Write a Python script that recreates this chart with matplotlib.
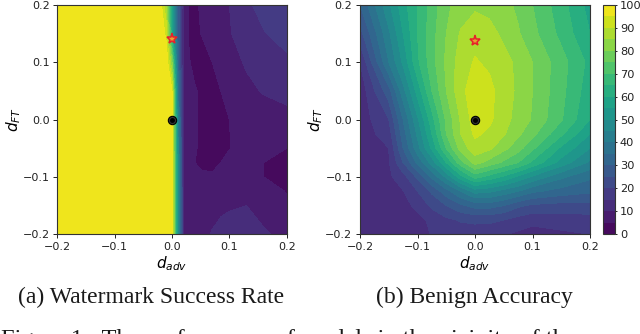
import numpy as np
import matplotlib
matplotlib.use("Agg")
import matplotlib.pyplot as plt

W, H = 640, 334
levels = np.arange(0, 101, 5)
ticks = [-0.2, -0.1, 0.0, 0.1, 0.2]
cbar_ticks = list(range(0, 101, 10))

# (a) Watermark Success Rate
a_x = [-0.2, -0.02, -0.01, 0.0, 0.01, 0.02, 0.03, 0.04, 0.05, 0.07, 0.085, 0.1, 0.13, 0.16, 0.2]
a_y = [-0.2, -0.15, -0.125, -0.1, -0.075, -0.05, 0.0, 0.05, 0.1, 0.15, 0.2]
a_z = [
    [100, 100, 100, 97, 50, 10, 7, 7.5, 8, 10.5, 11.5, 12, 13, 11, 8],
    [100, 100, 100, 97, 50, 10, 7, 7, 7, 7.5, 9, 9.5, 10, 7, 5.3],
    [100, 100, 100, 97, 50, 10, 7, 6.5, 6.5, 7, 7.5, 8, 8, 6, 4.9],
    [100, 100, 100, 97, 50, 9, 6.5, 6, 5.5, 5.5, 6, 6.5, 7, 5, 3.5],
    [100, 100, 100, 97, 50, 9, 6, 5, 4.5, 4, 5, 6, 6.5, 5, 3.5],
    [100, 100, 100, 97, 48, 9, 6, 5.3, 4.5, 3, 4, 4.9, 6, 6, 5],
    [100, 100, 100, 97, 45, 8, 6, 5.3, 4.5, 3, 3.5, 5, 6, 7, 8],
    [100, 100, 100, 95, 40, 8, 6, 5.3, 4.5, 3.5, 5, 6.5, 8.5, 10.5, 12],
    [100, 100, 100, 80, 35, 8, 5.2, 4, 4, 5, 6.5, 7.5, 10.8, 12, 14],
    [100, 100, 93, 60, 30, 9, 4.5, 4.5, 5, 7, 8, 9.7, 12, 14.7, 17],
    [100, 97, 85, 55, 30, 10, 4, 4.5, 5.3, 7, 8.5, 10, 14, 17, 20],
]

# (b) Benign Accuracy
b_x = [-0.2, -0.15, -0.125, -0.1, -0.075, -0.05, -0.025, 0.0, 0.025, 0.05, 0.075, 0.1, 0.15, 0.2]
b_y = [-0.2, -0.175, -0.15, -0.125, -0.1, -0.075, -0.05, -0.025, 0.0, 0.05, 0.1, 0.15, 0.2]
b_z = [
    [11, 11, 11, 12.5, 15.3, 16.5, 17, 17.5, 17, 15.5, 14, 13, 14, 15],
    [11, 11, 11.5, 13, 16.5, 19, 20.5, 21, 21, 20, 18, 16.5, 17.5, 18],
    [11, 11, 13, 16.5, 21, 25, 29, 32, 32, 30, 26, 24, 23, 23],
    [11, 12, 14.8, 20, 26, 33, 40, 47, 46, 43, 40, 36, 33, 31],
    [11, 14, 18, 26, 36, 46, 58, 67, 63, 59, 54, 49, 41, 36],
    [11.5, 14.5, 25, 36, 47, 60, 73, 82, 78, 74, 70, 64, 53, 44],
    [11.5, 15, 30, 43, 56, 70, 82, 88, 86, 81.5, 77, 71, 59, 50],
    [12, 17.5, 32.5, 46, 60, 75, 85, 91, 89, 85.5, 81, 76.5, 66, 55],
    [12, 20, 35, 49, 63, 76, 85.5, 92.5, 91, 87, 83, 79.5, 70.5, 60],
    [11.5, 28, 43, 57, 70, 80, 88.5, 93, 91.5, 87.5, 84, 80, 71.5, 62],
    [15, 40, 51, 64, 73, 81, 87.5, 90.5, 89, 86.5, 84, 80, 72, 63.5],
    [23, 44, 55, 65, 73, 80, 85.5, 88, 86.5, 84, 80.5, 76.5, 68.5, 60],
    [30, 49, 58, 65, 72, 79, 82, 84, 83.5, 81.5, 79, 75, 67, 58],
]

# marker positions
a_star = (0.0, 0.14)
b_star = (0.0, 0.137)
origin = (0.0, 0.0)

panel_a_caption = "(a) Watermark Success Rate"
panel_b_caption = "(b) Benign Accuracy"
figure_caption = "Figure 1:  The performance of models in the vicinity of the"

fig = plt.figure(figsize=(W / 100, H / 100), dpi=100)
def box(l, t, r, b):
    return [l / W, 1 - b / H, (r - l) / W, (b - t) / H]

ax1 = fig.add_axes(box(57.3, 4.7, 286.7, 234.3))
ax2 = fig.add_axes(box(360, 4.7, 590, 234.3))
cax = fig.add_axes(box(603, 4.7, 615, 234.3))

for ax, x, y, z, star in ((ax1, a_x, a_y, a_z, a_star), (ax2, b_x, b_y, b_z, b_star)):
    cs = ax.contourf(x, y, np.array(z), levels=levels, cmap="viridis", vmin=0, vmax=100)
    ax.plot(*origin, "o", ms=6, mfc="#333333", mec="black", mew=0.8)
    ax.plot(*origin, "o", ms=2.5, mfc="black", mec="black")
    ax.plot(*star, "*", ms=8, mfc="#e8a030", mec="#e8202a", mew=1.1)
    ax.set_xlim(-0.2, 0.2)
    ax.set_ylim(-0.2, 0.2)
    ax.set_xticks(ticks)
    ax.set_yticks(ticks)
    ax.tick_params(labelsize=8, length=3, width=0.7, pad=2.5, colors="#222222")
    ax.set_xlabel(r"$d_{adv}$", fontsize=11, labelpad=1.5)
    ax.set_ylabel(r"$d_{FT}$", fontsize=11, labelpad=0)
    for s in ax.spines.values():
        s.set_linewidth(0.8)
        s.set_color("#333333")

cb = fig.colorbar(cs, cax=cax, ticks=cbar_ticks)
cb.ax.tick_params(labelsize=8.2, length=1.5, width=0.7, pad=2, colors="#222222")
cb.outline.set_linewidth(0.8)
cb.outline.set_edgecolor("#333333")

serif = "Liberation Serif"
fig.text(151 / W, 1 - 297 / H, panel_a_caption, family=serif, fontsize=17, ha="center", va="center", color="#1a1a1a")
fig.text(474 / W, 1 - 297 / H, panel_b_caption, family=serif, fontsize=17, ha="center", va="center", color="#1a1a1a")
fig.text(1 / W, 1 - 345 / H, figure_caption, family=serif, fontsize=17.6, ha="left", va="baseline", color="#1a1a1a")

fig.savefig("out.png", dpi=100)
